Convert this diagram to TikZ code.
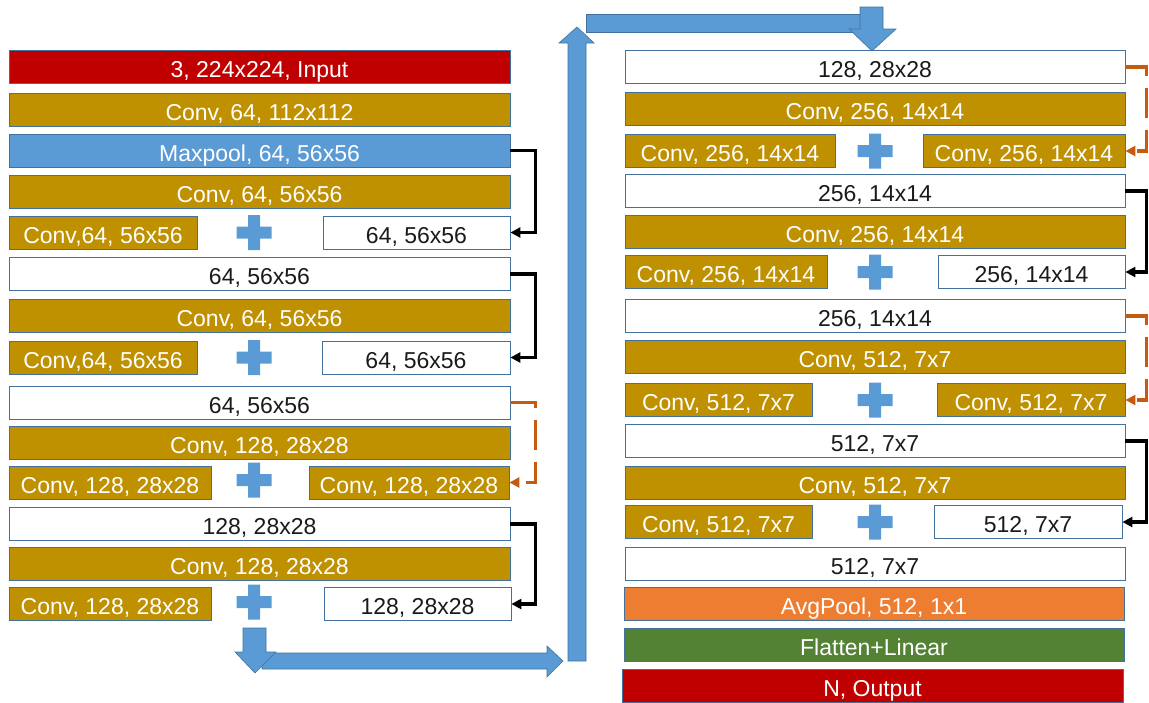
\documentclass[tikz,border=0pt]{standalone}
\usepackage{fontspec}
\setmainfont{Liberation Sans}
\usetikzlibrary{arrows.meta}
\definecolor{gold}{HTML}{BF9000}
\definecolor{skyblue}{HTML}{5B9BD5}
\definecolor{edgeblue}{HTML}{41719C}
\definecolor{darkred}{HTML}{C00000}
\definecolor{pumpkin}{HTML}{ED7D31}
\definecolor{leaf}{HTML}{548235}
\definecolor{rust}{HTML}{C55A11}
\definecolor{ink}{HTML}{1A1A1A}
\tikzset{
  layer/.style={draw=edgeblue, line width=0.8pt, minimum height=33pt, inner sep=0pt,
    text height=21pt, text depth=0pt,
    font=\fontsize{23}{27}\selectfont, anchor=center},
  goldbox/.style={layer, fill=gold, text=white},
  bluebox/.style={layer, fill=skyblue, text=white},
  redbox/.style={layer, fill=darkred, text=white},
  orangebox/.style={layer, fill=pumpkin, text=white},
  greenbox/.style={layer, fill=leaf, text=white},
  whitebox/.style={layer, fill=white, text=ink},
  plus/.pic={\fill[skyblue] (-17.5,-6) rectangle (17.5,6) (-6,-17.5) rectangle (6,17.5);},
  skip/.style={line width=3.2pt, -{Triangle[length=10pt,width=10pt]}},
  proj/.style={skip, draw=rust, color=rust, dash pattern=on 30pt off 12pt},
  bigarrow/.style={fill=skyblue, draw=edgeblue, line width=0.6pt},
}
\begin{document}
\begin{tikzpicture}[x=1pt, y=-1pt]
\useasboundingbox (0,0) rectangle (1149,702);

% ---------- left column ----------
\node[redbox,  minimum width=501pt] (l1) at (259.5,66.5) {3, 224x224, Input};
\node[goldbox, minimum width=501pt] (l2) at (259.5,109.5) {Conv, 64, 112x112};
\node[bluebox, minimum width=501pt] (l3) at (259.5,150.5) {Maxpool, 64, 56x56};
\node[goldbox, minimum width=501pt] (l4) at (259.5,191.5) {Conv, 64, 56x56};
\node[goldbox, minimum width=188pt] (l5a) at (103,232.5) {Conv,64, 56x56};
\pic at (254,232.5) {plus};
\node[whitebox, minimum width=187pt] (l5b) at (416.5,232.5) {64, 56x56};
\node[whitebox, minimum width=501pt] (l6) at (259.5,274) {64, 56x56};
\node[goldbox, minimum width=501pt] (l7) at (259.5,315.5) {Conv, 64, 56x56};
\node[goldbox, minimum width=188pt] (l8a) at (103,357.5) {Conv,64, 56x56};
\pic at (254,357.5) {plus};
\node[whitebox, minimum width=188pt] (l8b) at (416,357.5) {64, 56x56};
\node[whitebox, minimum width=501pt] (l9) at (259.5,402.5) {64, 56x56};
\node[goldbox, minimum width=501pt] (l10) at (259.5,442.5) {Conv, 128, 28x28};
\node[goldbox, minimum width=202pt] (l11a) at (110,482.5) {Conv, 128, 28x28};
\pic at (254,480) {plus};
\node[goldbox, minimum width=200pt] (l11b) at (409,482.5) {Conv, 128, 28x28};
\node[whitebox, minimum width=501pt] (l12) at (259.5,524) {128, 28x28};
\node[goldbox, minimum width=501pt] (l13) at (259.5,564) {Conv, 128, 28x28};
\node[goldbox, minimum width=202pt] (l14a) at (110,604) {Conv, 128, 28x28};
\pic at (254,602) {plus};
\node[whitebox, minimum width=187pt] (l14b) at (417.5,604) {128, 28x28};

% ---------- right column ----------
\node[whitebox, minimum width=500pt] (r1) at (875,67) {128, 28x28};
\node[goldbox, minimum width=500pt] (r2) at (875,109) {Conv, 256, 14x14};
\node[goldbox, minimum width=210pt] (r3a) at (730,151) {Conv, 256, 14x14};
\pic at (875,151) {plus};
\node[goldbox, minimum width=202pt] (r3b) at (1024,151) {Conv, 256, 14x14};
\node[whitebox, minimum width=500pt] (r4) at (875,191) {256, 14x14};
\node[goldbox, minimum width=500pt] (r5) at (875,232) {Conv, 256, 14x14};
\node[goldbox, minimum width=202pt] (r6a) at (726,272) {Conv, 256, 14x14};
\pic at (875,272) {plus};
\node[whitebox, minimum width=187pt] (r6b) at (1031.5,272) {256, 14x14};
\node[whitebox, minimum width=500pt] (r7) at (875,316) {256, 14x14};
\node[goldbox, minimum width=500pt] (r8) at (875,357) {Conv, 512, 7x7};
\node[goldbox, minimum width=187pt] (r9a) at (718.5,400) {Conv, 512, 7x7};
\pic at (875,400) {plus};
\node[goldbox, minimum width=188pt] (r9b) at (1031,400) {Conv, 512, 7x7};
\node[whitebox, minimum width=500pt] (r10) at (875,441) {512, 7x7};
\node[goldbox, minimum width=500pt] (r11) at (875,483) {Conv, 512, 7x7};
\node[goldbox, minimum width=187pt] (r12a) at (718.5,522) {Conv, 512, 7x7};
\pic at (875,522) {plus};
\node[whitebox, minimum width=188pt] (r12b) at (1028,522) {512, 7x7};
\node[whitebox, minimum width=500pt] (r13) at (875,564) {512, 7x7};
\node[orangebox, minimum width=500pt] (r14) at (874,604) {AvgPool, 512, 1x1};
\node[greenbox, minimum width=500pt] (r15) at (874,645) {Flatten+Linear};
\node[redbox, minimum width=501pt] (r16) at (872.5,686) {N, Output};

% ---------- shortcut connections ----------
\draw[skip] (l3.east) -- ++(25,0) |- (l5b.east);
\draw[skip] (l6.east) -- ++(25,0) |- (l8b.east);
\draw[proj] (l9.east) -- ++(25,0) |- (l11b.east);
\draw[skip] (l12.east) -- ++(25,0) |- (l14b.east);
\draw[proj] (r1.east) -- ++(21,0) |- (r3b.east);
\draw[skip] (r4.east) -- ++(21,0) |- (r6b.east);
\draw[proj] (r7.east) -- ++(21,0) |- (r9b.east);
\draw[skip] (r10.east) -- ++(21,0) |- (r12b.east);

% ---------- wrap-around arrows between the columns ----------
\draw[bigarrow] (262,653) -- (547,653) -- (547,646) -- (563,661) -- (547,677) -- (547,669) -- (262,669) -- cycle;
\draw[bigarrow] (243,628) -- (266,628) -- (266,652) -- (276,652) -- (255,673) -- (235,652) -- (243,652) -- cycle;
\draw[bigarrow] (568,661) -- (586,661) -- (586,43) -- (594,43) -- (577,27) -- (559,43) -- (568,43) -- cycle;
\draw[bigarrow] (586,14) -- (862,14) -- (862,32) -- (586,32) -- cycle;
\draw[bigarrow] (860,7) -- (883,7) -- (883,29) -- (896,29) -- (872,51) -- (849,29) -- (860,29) -- cycle;
\end{tikzpicture}
\end{document}
